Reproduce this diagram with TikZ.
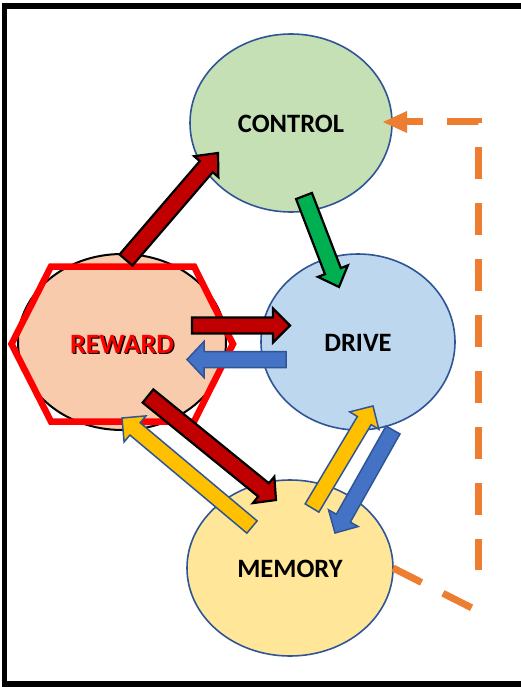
\documentclass[tikz,border=0pt]{standalone}
\usepackage{fontspec}
\setmainfont{Carlito}
\usetikzlibrary{shapes.geometric,calc}
\definecolor{ctrlfill}{HTML}{C5E0B4}
\definecolor{drivefill}{HTML}{BDD7EE}
\definecolor{memfill}{HTML}{FFE699}
\definecolor{rewfill}{HTML}{F8CBAD}
\definecolor{edgeblue}{HTML}{2F5597}
\definecolor{darkred}{HTML}{C00000}
\definecolor{grn}{HTML}{00B050}
\definecolor{blu}{HTML}{4472C4}
\definecolor{yel}{HTML}{FFC000}
\definecolor{orng}{HTML}{ED7D31}
\definecolor{hexred}{HTML}{FF0000}
\newcommand{\blockarrow}[6]{%
  \coordinate (ba-n) at ($(#2)!#5!(#1)$);
  \draw[#6] ($(#1)!#3!90:(#2)$) -- ($(ba-n)!#3!-90:(#1)$) -- ($(ba-n)!#4!-90:(#1)$) -- (#2) -- ($(ba-n)!#4!90:(#1)$) -- ($(ba-n)!#3!90:(#1)$) -- ($(#1)!#3!-90:(#2)$) -- cycle;}
\tikzset{
  circnode/.style={ellipse, draw=edgeblue, line width=1.6pt, inner sep=0pt},
  lbl/.style={font=\bfseries\fontsize{26.5}{30}\selectfont, inner sep=0pt},
  redarrow/.style={fill=darkred, draw=black, line width=2.2pt, line join=miter},
  greenarrow/.style={fill=grn, draw=black, line width=2.2pt, line join=miter},
  bluearrow/.style={fill=blu, draw=edgeblue, line width=1.5pt, line join=miter},
  yellowarrow/.style={fill=yel, draw=edgeblue, line width=1.5pt, line join=miter},
  odash/.style={draw=orng, line width=7pt, dash pattern=on 32pt off 24pt},
}
\begin{document}
\begin{tikzpicture}[x=1pt,y=-1pt]
\useasboundingbox (0,0) rectangle (520,687);
\fill[white] (0,0) rectangle (520,687);
\draw[line width=5.5pt] (4.5,5.8) rectangle (530,684.2);

% nodes
\node[circnode, fill=ctrlfill, minimum width=202pt, minimum height=178pt] (control) at (291,123) {};
\node[circnode, fill=drivefill, minimum width=194pt, minimum height=176pt] (drive) at (358,342) {};
\node[circnode, fill=memfill, minimum width=206pt, minimum height=176pt] (memory) at (290,568) {};
\node[ellipse, draw=black, line width=2pt, fill=rewfill, inner sep=0pt, minimum width=208pt, minimum height=176pt] (reward) at (122,342) {};
\draw[hexred, line width=6.5pt, line join=miter]
  ($(reward)+(-110.5,2)$) -- ($(reward)+(-71,-75.5)$) -- ($(reward)+(72,-75.5)$) -- ($(reward)+(111,2)$) -- ($(reward)+(72,79.5)$) -- ($(reward)+(-71,79.5)$) -- cycle;

\node[lbl] (controltxt) at (291,124) {CONTROL};
\node[lbl] (drivetxt) at (358,343) {DRIVE};
\node[lbl] (memorytxt) at (290,569) {MEMORY};
\node[lbl, font=\bfseries\fontsize{28}{32}\selectfont, text=black] at (123.3,345.3) {REWARD};
\node[lbl, font=\bfseries\fontsize{28}{32}\selectfont, text=hexred] (rewardtxt) at (122,344) {REWARD};

% arrow end points
\coordinate (rc1) at (126,260);  \coordinate (rc2) at (218,153);
\coordinate (cd1) at (304,196);  \coordinate (cd2) at (339,287);
\coordinate (rd1) at (192,325.5);\coordinate (rd2) at (290,325.5);
\coordinate (dr1) at (286,359.5);\coordinate (dr2) at (187,359.5);
\coordinate (rm1) at (148,396);  \coordinate (rm2) at (276,500);
\coordinate (mr1) at (252,527);  \coordinate (mr2) at (122,418);
\coordinate (md1) at (312,508);  \coordinate (md2) at (373,406);
\coordinate (dm1) at (393,430);  \coordinate (dm2) at (335,533);

\blockarrow{rc1}{rc2}{8.5pt}{16pt}{18pt}{redarrow}
\blockarrow{cd1}{cd2}{8.5pt}{16pt}{17pt}{greenarrow}
\blockarrow{rd1}{rd2}{8pt}{17pt}{17pt}{redarrow}
\blockarrow{dr1}{dr2}{8pt}{18pt}{17pt}{bluearrow}
\blockarrow{rm1}{rm2}{8.5pt}{17pt}{16pt}{redarrow}
\blockarrow{mr1}{mr2}{8pt}{17pt}{17pt}{yellowarrow}
\blockarrow{md1}{md2}{8pt}{17pt}{17pt}{yellowarrow}
\blockarrow{dm1}{dm2}{8pt}{17pt}{17pt}{bluearrow}

% orange dashed feedback
\coordinate (otip) at (383,122);
\coordinate (ostart) at (391,122);
\coordinate (ocorner) at (478,122);
\coordinate (obottom) at (478,570);
\coordinate (om1) at (393,568);
\coordinate (om2) at (472,608);
\draw[odash] (ostart) -- (ocorner) -- (obottom);
\draw[odash] (om1) -- (om2);
\fill[orng] (otip) -- ++(24,-11) -- ++(0,22) -- cycle;
\end{tikzpicture}
\end{document}
